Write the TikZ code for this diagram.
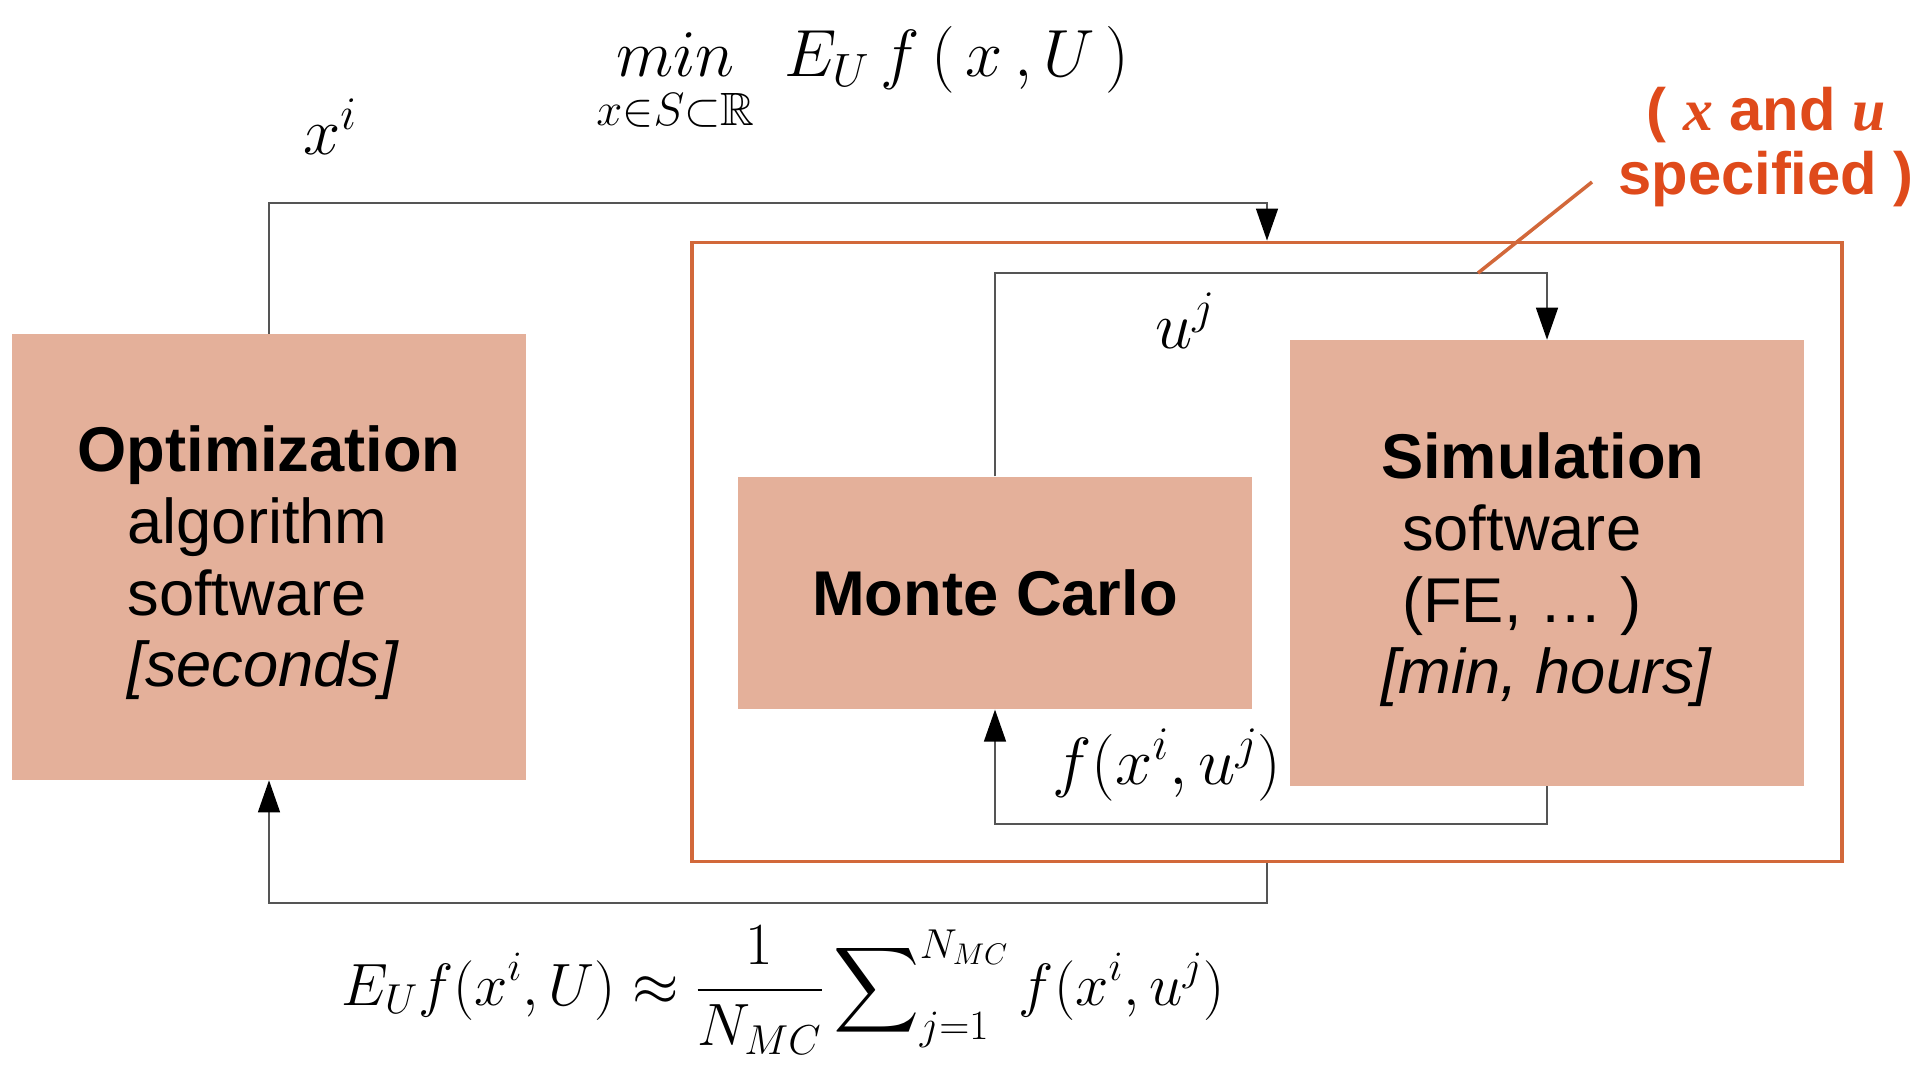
\RequirePackage{fix-cm}
\documentclass[tikz,border=0pt]{standalone}
\usepackage{amsmath,amssymb}
\usepackage{fontspec}
\setmainfont{Liberation Sans}
\newfontfamily\serifbi{Liberation Serif}
\usetikzlibrary{arrows.meta,positioning}

\definecolor{boxfill}{HTML}{E4B09A}
\definecolor{frameor}{HTML}{D2683A}
\definecolor{noteor}{HTML}{DF4A1B}
\definecolor{wire}{HTML}{555555}

\begin{document}
\begin{tikzpicture}[
    x=0.02cm, y=-0.02cm,
    block/.style={fill=boxfill, inner sep=0pt, minimum width=10.29cm, font=\fontsize{36}{40.8}\selectfont},
    frame/.style={draw=frameor, line width=2pt, inner sep=0pt},
    flow/.style={draw=wire, line width=0.8pt, -{Triangle[length=0.64cm, width=0.44cm, color=black]}},
    mathtxt/.style={font=\fontsize{38}{46}\selectfont, inner sep=0pt},
    note/.style={font=\fontsize{34}{36.4}\selectfont\bfseries, text=noteor, align=center}
]
\useasboundingbox (0,0) rectangle (1931,1066);

% Blocks
\node[block, minimum height=8.92cm, align=left] (opt) at (269,557)
    {\rule{0pt}{33pt}\textbf{Optimization}\\ \hspace*{1.0cm}algorithm\\ \hspace*{1.0cm}software\\ \hspace*{1.0cm}\textit{[seconds]}};
\node[frame, minimum width=23cm, minimum height=12.39cm] (outer) at (1267,552) {};
\node[block, minimum height=4.65cm] (mc) at (995,593) {\textbf{Monte Carlo}};
\node[block, minimum height=8.92cm, align=left] (sim) at (1547,563)
    {\rule{0pt}{34pt}\textbf{Simulation}\\ \hspace*{0.42cm}software\\ \hspace*{0.42cm}(FE, … )\\ \textit{[min, hours]}};

% Levels of the connectors
\coordinate (ytop) at (0,203);
\coordinate (ymid) at (0,273);
\coordinate (ylow) at (0,824);
\coordinate (ybot) at (0,903);

% Connectors
\draw[flow] (opt.north) |- (ytop -| outer.north) -- (outer.north);
\draw[flow] (outer.south) |- (ybot -| opt.south) -- (opt.south);
\draw[flow] (mc.north) |- (ymid -| sim.north) -- (sim.north);
\draw[flow] (sim.south) |- (ylow -| mc.south) -- (mc.south);

% Formulas
\node[mathtxt, anchor=base] (xi) at (330,154) {$x^{i}$};
\node[mathtxt, anchor=base] (goal) at (863,76)
    {$\mathop{min}\limits_{\rule{0pt}{22pt}x\in S\subset\mathbb{R}}\; E_U\, f\,(\,x\,,U\,)$};
\node[mathtxt, anchor=base] (uj) at (1185,348) {$u^{j}$};
\node[mathtxt, anchor=base] (fxu) at (1167,784) {$f(x^{i},u^{j})$};
\node[mathtxt, font=\fontsize{34}{40}\selectfont, anchor=base] (mcest) at (783,1005)
    {$\displaystyle E_U f(x^{i},U)\approx\frac{1}{N_{MC}}\sum\nolimits_{j=1}^{N_{MC}} f(x^{i},u^{j})$};

% Note
\node[note] (spec) at (1766,147) {( {\serifbi\itshape x} and {\serifbi\itshape u}\\specified )};
\coordinate (tick) at (1478,273);
\coordinate (tickend) at (1592,182);
\draw[frameor, line width=2pt] (tick) -- (tickend);

\end{tikzpicture}
\end{document}
